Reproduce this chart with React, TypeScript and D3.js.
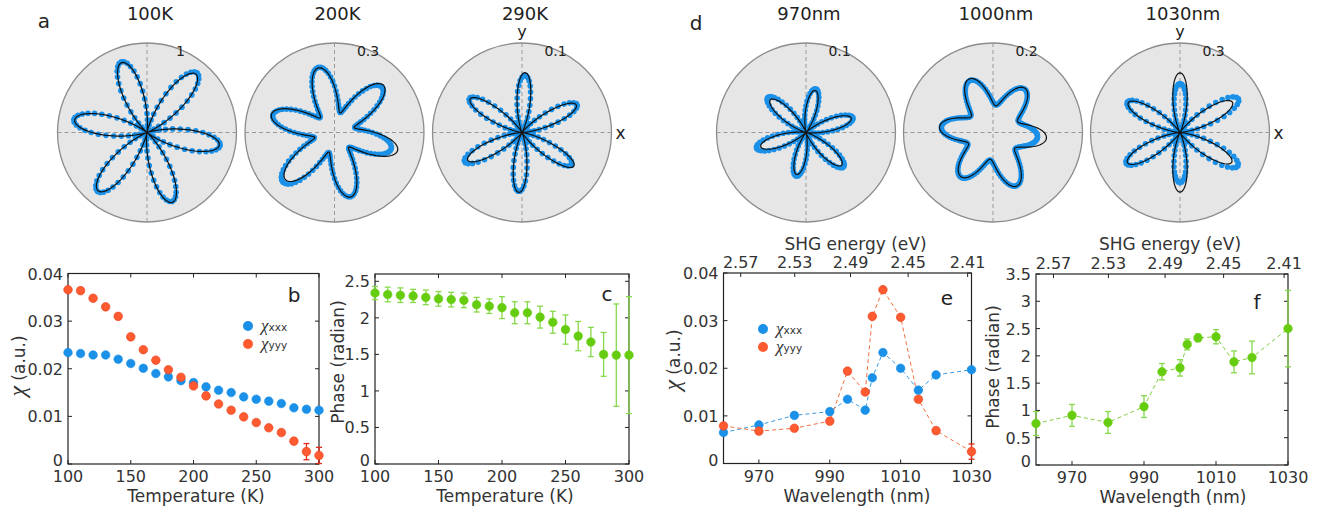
import React from 'react'
import * as d3 from 'd3'

// polar panels (a: temperature, d: wavelength)
const tempTitles = ['100K', '200K', '290K']
const waveTitles = ['970nm', '1000nm', '1030nm']
const radialMax = [1, 0.3, 0.1, 0.1, 0.2, 0.3]
const radialLabels = ['1', '0.3', '0.1', '0.1', '0.2', '0.3']
// direction of the first petal (deg, counter-clockwise from x)
const petalStart = [-10, -16, 27, 17.5, -6, 30]
const petalSharp = [2, 2, 3, 2.4, 2, 2.6]
const fitMin = [0, 0.068, 0, 0, 0.06, 0]
const dataMin = [0.004, 0.07, 0.003, 0.003, 0.062, 0.004]
const fitPetals = [
  [0.82, 0.85, 0.83, 0.82, 0.85, 0.83],
  [0.22, 0.228, 0.223, 0.22, 0.228, 0.223],
  [0.068, 0.067, 0.069, 0.068, 0.067, 0.069],
  [0.053, 0.048, 0.054, 0.053, 0.048, 0.054],
  [0.12, 0.122, 0.131, 0.12, 0.122, 0.131],
  [0.203, 0.2, 0.2, 0.203, 0.2, 0.2]
]
const dataPetals = [
  [0.83, 0.87, 0.84, 0.83, 0.86, 0.82],
  [0.198, 0.22, 0.225, 0.215, 0.24, 0.222],
  [0.069, 0.064, 0.07, 0.072, 0.066, 0.066],
  [0.055, 0.05, 0.058, 0.058, 0.05, 0.057],
  [0.1, 0.12, 0.127, 0.116, 0.123, 0.13],
  [0.226, 0.164, 0.204, 0.208, 0.168, 0.224]
]
const sampleAngles = d3.range(0, 360, 2)
const fitAngles = d3.range(0, 360, 1)

// b, c: temperature dependence
const temps = [100, 110, 120, 130, 140, 150, 160, 170, 180, 190, 200, 210, 220, 230, 240, 250, 260, 270, 280, 290, 300]
const chiXxxT = [0.0234, 0.0232, 0.0229, 0.0229, 0.022, 0.0211, 0.0201, 0.019, 0.0183, 0.0175, 0.0171, 0.0162, 0.0155, 0.015, 0.0141, 0.0136, 0.0132, 0.0127, 0.0118, 0.0115, 0.0113]
const chiYyyT = [0.0366, 0.0364, 0.0348, 0.033, 0.031, 0.0267, 0.024, 0.0218, 0.0198, 0.0182, 0.0164, 0.0143, 0.0126, 0.0113, 0.0099, 0.0087, 0.0076, 0.0066, 0.0048, 0.0026, 0.0018]
const chiYyyTErr = [0.0003, 0.0003, 0.0003, 0.0003, 0.0003, 0.0003, 0.0003, 0.0003, 0.0003, 0.0003, 0.0003, 0.0003, 0.0003, 0.0003, 0.0003, 0.0003, 0.0003, 0.0003, 0.0004, 0.0017, 0.0017]
const phaseT = [2.34, 2.32, 2.31, 2.3, 2.28, 2.26, 2.25, 2.24, 2.18, 2.16, 2.14, 2.07, 2.07, 2.01, 1.94, 1.84, 1.75, 1.67, 1.5, 1.49, 1.49]
const phaseTErr = [0.09, 0.1, 0.1, 0.09, 0.1, 0.1, 0.1, 0.1, 0.1, 0.1, 0.15, 0.15, 0.15, 0.15, 0.15, 0.2, 0.2, 0.2, 0.3, 0.7, 0.8]
const tempTicks = [100, 150, 200, 250, 300]
const chiTicks = [0, 0.01, 0.02, 0.03, 0.04]
const phaseTicksT = [0, 0.5, 1, 1.5, 2, 2.5]

// e, f: wavelength dependence
const waves = [960, 970, 980, 990, 995, 1000, 1002, 1005, 1010, 1015, 1020, 1030]
const chiXxxW = [0.0065, 0.0081, 0.0101, 0.0109, 0.0135, 0.0112, 0.018, 0.0233, 0.02, 0.0154, 0.0186, 0.0197]
const chiYyyW = [0.0079, 0.0068, 0.0074, 0.0089, 0.0194, 0.015, 0.0309, 0.0365, 0.0307, 0.0135, 0.0069, 0.0025]
const chiYyyWErr = [0.0002, 0.0002, 0.0002, 0.0002, 0.0002, 0.0002, 0.0002, 0.0002, 0.0002, 0.0002, 0.0006, 0.0016]
const phaseW = [0.76, 0.91, 0.78, 1.07, 1.71, 1.78, 2.21, 2.33, 2.35, 1.89, 1.97, 2.5]
const phaseWErr = [0.22, 0.2, 0.2, 0.2, 0.15, 0.15, 0.1, 0.07, 0.13, 0.2, 0.3, 0.7]
const waveTicks = [970, 990, 1010, 1030]
const energyTicks = [2.57, 2.53, 2.49, 2.45, 2.41]
const phaseTicksW = [0, 0.5, 1, 1.5, 2, 2.5, 3, 3.5]

const sans = "'DejaVu Sans', Verdana, sans-serif"
const serif = "'Liberation Serif', 'DejaVu Serif', serif"
const ink = '#222'
const blue = '#1a90e8'
const red = '#ff5a30'
const green = '#66cc10'
const hcNm = 1239.84

const rad = (deg: number) => (deg * Math.PI) / 180

function rose(theta: number, i: number, petals: number[], rmin: number) {
  const rel = theta - petalStart[i]
  const k = (((Math.round(rel / 60)) % 6) + 6) % 6
  const c = Math.abs(Math.cos(3 * rad(rel)))
  return rmin + (petals[k] - rmin) * Math.pow(c, petalSharp[i])
}

function Polar({ cx, cy, i, title, axes }: { cx: number; cy: number; i: number; title: string; axes: boolean }) {
  const R = 89.5
  const r = d3.scaleLinear().domain([0, radialMax[i]]).range([0, R])
  const pt = (theta: number, v: number): [number, number] => [cx + r(v) * Math.cos(rad(theta)), cy - r(v) * Math.sin(rad(theta))]
  const fit = d3.line().curve(d3.curveLinearClosed)(fitAngles.map(a => pt(a, rose(a, i, fitPetals[i], fitMin[i]))))
  const lab = pt(68, radialMax[i])
  return (
    <g>
      <text x={cx + 3} y={20} textAnchor="middle" fontSize={18} fill={ink}>{title}</text>
      <circle cx={cx} cy={cy} r={R} fill="#e6e6e6" stroke="#8c8c8c" strokeWidth={1.3} />
      <line x1={cx - R} x2={cx + R} y1={cy} y2={cy} stroke="#999" strokeDasharray="4,3" />
      <line x1={cx} x2={cx} y1={cy - R} y2={cy + R} stroke="#999" strokeDasharray="4,3" />
      {sampleAngles.map(a => {
        const [x, y] = pt(a, rose(a, i, dataPetals[i], dataMin[i]))
        return <circle key={a} cx={x} cy={y} r={2.8} fill={blue} />
      })}
      <path d={fit || ''} fill="none" stroke="#111" strokeWidth={1.2} />
      <text x={lab[0]} y={lab[1] + 6} textAnchor="middle" fontSize={14} fill={ink}>{radialLabels[i]}</text>
      {axes && <text x={cx} y={37} textAnchor="middle" fontSize={16} fill={ink}>y</text>}
      {axes && <text x={cx + R + 4} y={cy + 6} fontSize={17} fill={ink}>x</text>}
    </g>
  )
}

const fmt = (v: number) => String(v)

function Frame({ xs, ys, xTicks, yTicks, energy }: { xs: any; ys: any; xTicks: number[]; yTicks: number[]; energy?: boolean }) {
  const [l, rr] = xs.range()
  const [b, t] = ys.range()
  return (
    <g fontSize={16} fill="#333">
      <rect x={l} y={t} width={rr - l} height={b - t} fill="none" stroke={ink} strokeWidth={1.2} />
      {xTicks.map(v => (
        <g key={'x' + v}>
          <line x1={xs(v)} x2={xs(v)} y1={b} y2={b - 4} stroke={ink} />
          {!energy && <line x1={xs(v)} x2={xs(v)} y1={t} y2={t + 4} stroke={ink} />}
          <text x={xs(v)} y={b + 18} textAnchor="middle">{fmt(v)}</text>
        </g>
      ))}
      {yTicks.map(v => (
        <g key={'y' + v}>
          <line x1={l} x2={l + 4} y1={ys(v)} y2={ys(v)} stroke={ink} />
          <line x1={rr} x2={rr - 4} y1={ys(v)} y2={ys(v)} stroke={ink} />
          <text x={l - 5} y={ys(v) + (v === 0 ? 2 : 6)} textAnchor="end">{fmt(v)}</text>
        </g>
      ))}
      {energy && energyTicks.map(e => {
        const x = xs((2 * hcNm) / e)
        return (
          <g key={'e' + e}>
            <line x1={x} x2={x} y1={t} y2={t + 4} stroke={ink} />
            <text x={x} y={t - 5} textAnchor="middle">{e.toFixed(2)}</text>
          </g>
        )
      })}
      {energy && <text x={(l + rr) / 2 + 8} y={250} textAnchor="middle" fontSize={17}>SHG energy (eV)</text>}
    </g>
  )
}

function ChiLabel({ x, y }: { x: number; y: number }) {
  return (
    <text transform={`translate(${x},${y}) rotate(-90)`} textAnchor="middle" fontSize={17} fill="#333">
      <tspan fontFamily={serif} fontStyle="italic" fontSize={24}>χ</tspan>
      <tspan> (a.u.)</tspan>
    </text>
  )
}

function Legend({ x, y }: { x: number; y: number }) {
  const items = [{ c: blue, s: 'xxx' }, { c: red, s: 'yyy' }]
  return (
    <g>
      {items.map((it, k) => (
        <g key={it.s}>
          <circle cx={x} cy={y + k * 18} r={5} fill={it.c} />
          <text x={x + 13} y={y + k * 18 + 5} fill="#333">
            <tspan fontFamily={serif} fontStyle="italic" fontSize={17}>χ</tspan>
            <tspan fontSize={10.5}>{it.s}</tspan>
          </text>
        </g>
      ))}
    </g>
  )
}

function Markers({ xs, ys, xv, yv, err, color, edge, errColor }: any) {
  return (
    <g>
      {err && xv.map((x: number, k: number) => {
        const px = xs(x)
        const lo = ys(yv[k] - err[k])
        const hi = ys(yv[k] + err[k])
        return (
          <g key={'e' + k} stroke={errColor} strokeWidth={1.3}>
            <line x1={px} x2={px} y1={lo} y2={hi} />
            <line x1={px - 3} x2={px + 3} y1={lo} y2={lo} />
            <line x1={px - 3} x2={px + 3} y1={hi} y2={hi} />
          </g>
        )
      })}
      {xv.map((x: number, k: number) => (
        <circle key={k} cx={xs(x)} cy={ys(yv[k])} r={4.3} fill={color} stroke={edge} strokeWidth={0.6} />
      ))}
    </g>
  )
}

function Dashed({ xs, ys, xv, yv, color }: any) {
  const d = d3.line<number>().x((_, k) => xs(xv[k])).y(v => ys(v))(yv)
  return <path d={d || ''} fill="none" stroke={color} strokeWidth={1} strokeDasharray="4,3" />
}

export default function App() {
  const cxA = [147, 334.5, 522]
  const cxD = [806, 993, 1180]
  const cy = 132.5

  const xb = d3.scaleLinear().domain([100, 300]).range([68, 319])
  const yb = d3.scaleLinear().domain([0, 0.04]).range([464, 273.5])
  const xc = d3.scaleLinear().domain([100, 300]).range([375, 629])
  const yc = d3.scaleLinear().domain([0, 2.6]).range([464, 274])
  const xe = d3.scaleLinear().domain([960, 1030]).range([723.5, 971.5])
  const ye = d3.scaleLinear().domain([0, 0.04]).range([463.5, 273])
  const xf = d3.scaleLinear().domain([960, 1030]).range([1036, 1288])
  const yf = d3.scaleLinear().domain([0, 3.5]).range([465, 274])

  return (
    <div style={{ position: 'absolute', left: 0, top: 0 }}>
      <svg width={1328} height={514} style={{ display: 'block', background: '#fff' }} fontFamily={sans}>
        <text x={44} y={28} textAnchor="middle" fontSize={20} fill={ink}>a</text>
        <text x={696} y={30} textAnchor="middle" fontSize={20} fill={ink}>d</text>
        {tempTitles.map((t, k) => (
          <Polar key={t} cx={cxA[k]} cy={cy} i={k} title={t} axes={k === 2} />
        ))}
        {waveTitles.map((t, k) => (
          <Polar key={t} cx={cxD[k]} cy={cy} i={k + 3} title={t} axes={k === 2} />
        ))}

        {/* b */}
        <Frame xs={xb} ys={yb} xTicks={tempTicks} yTicks={chiTicks} />
        <Markers xs={xb} ys={yb} xv={temps} yv={chiXxxT} color={blue} edge={blue} />
        <Markers xs={xb} ys={yb} xv={temps} yv={chiYyyT} err={chiYyyTErr} color={red} edge="#e8401c" errColor="#e02a1a" />
        <Legend x={248} y={326} />
        <text x={294} y={302} textAnchor="middle" fontSize={20} fill={ink}>b</text>
        <text x={196} y={502} textAnchor="middle" fontSize={17} fill="#333">Temperature (K)</text>
        <ChiLabel x={25} y={366} />

        {/* c */}
        <Frame xs={xc} ys={yc} xTicks={tempTicks} yTicks={phaseTicksT} />
        <Markers xs={xc} ys={yc} xv={temps} yv={phaseT} err={phaseTErr} color={green} edge={green} errColor="#86d94a" />
        <text x={607} y={301} textAnchor="middle" fontSize={20} fill={ink}>c</text>
        <text x={505} y={502} textAnchor="middle" fontSize={17} fill="#333">Temperature (K)</text>
        <text transform="translate(344,362) rotate(-90)" textAnchor="middle" fontSize={17} fill="#333">Phase (radian)</text>

        {/* e */}
        <Frame xs={xe} ys={ye} xTicks={waveTicks} yTicks={chiTicks} energy />
        <Dashed xs={xe} ys={ye} xv={waves} yv={chiXxxW} color="#3a9ae6" />
        <Dashed xs={xe} ys={ye} xv={waves} yv={chiYyyW} color="#f07040" />
        <Markers xs={xe} ys={ye} xv={waves} yv={chiXxxW} color={blue} edge={blue} />
        <Markers xs={xe} ys={ye} xv={waves} yv={chiYyyW} err={chiYyyWErr} color={red} edge="#e8401c" errColor="#e02a1a" />
        <Legend x={763} y={329} />
        <text x={947} y={305} textAnchor="middle" fontSize={20} fill={ink}>e</text>
        <text x={857} y={502} textAnchor="middle" fontSize={17} fill="#333">Wavelength (nm)</text>
        <ChiLabel x={680} y={360} />

        {/* f */}
        <Frame xs={xf} ys={yf} xTicks={waveTicks} yTicks={phaseTicksW} energy />
        <Dashed xs={xf} ys={yf} xv={waves} yv={phaseW} color="#80cc40" />
        <Markers xs={xf} ys={yf} xv={waves} yv={phaseW} err={phaseWErr} color={green} edge={green} errColor="#86d94a" />
        <text x={1257} y={309} textAnchor="middle" fontSize={20} fill={ink}>f</text>
        <text x={1173} y={503} textAnchor="middle" fontSize={17} fill="#333">Wavelength (nm)</text>
        <text transform="translate(999,367) rotate(-90)" textAnchor="middle" fontSize={17} fill="#333">Phase (radian)</text>
      </svg>
    </div>
  )
}
